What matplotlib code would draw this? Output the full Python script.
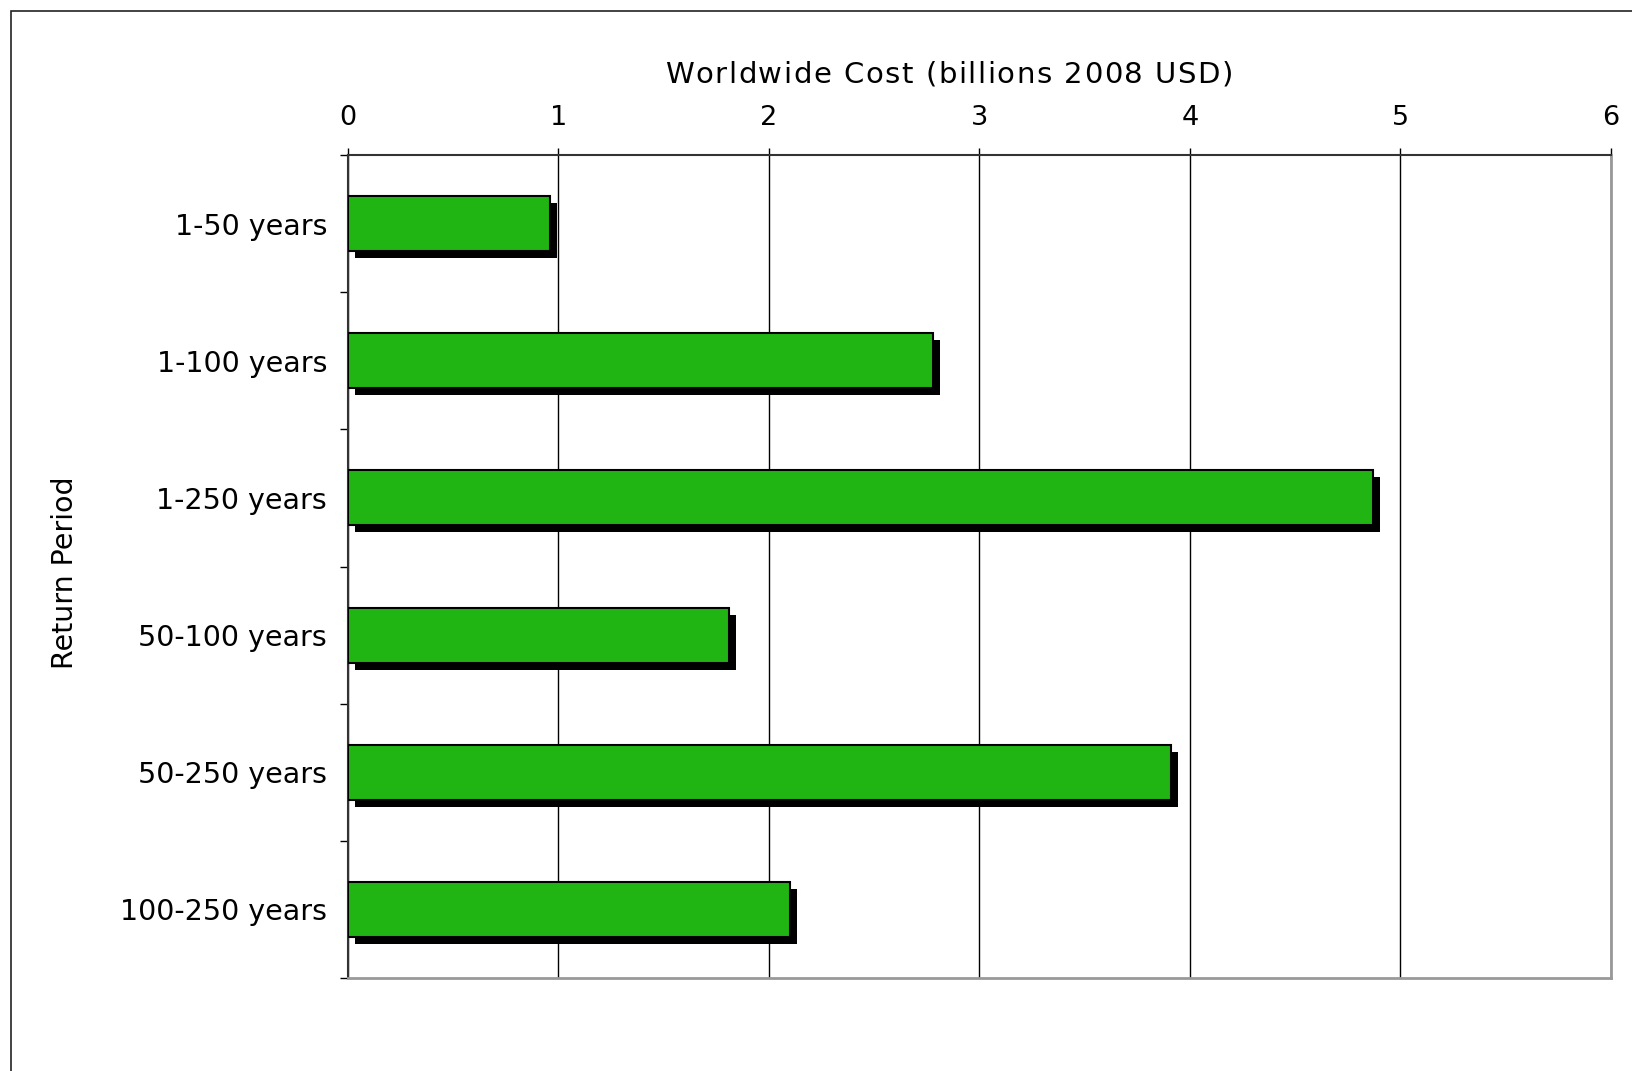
import matplotlib
matplotlib.use("Agg")
import matplotlib.pyplot as plt
from matplotlib.patches import Rectangle
from matplotlib.ticker import FixedLocator, NullFormatter
import matplotlib.transforms as mtransforms

categories = ["1-50 years", "1-100 years", "1-250 years", "50-100 years", "50-250 years", "100-250 years"]
costs = [0.96, 2.78, 4.87, 1.81, 3.91, 2.10]
xticks = [0, 1, 2, 3, 4, 5, 6]

W, H = 1633, 1071
fig = plt.figure(figsize=(W / 100, H / 100), dpi=100)
plt.rcParams['font.family'] = ['DejaVu Sans']

# axes position in pixels
left, right, top, bottom = 348, 1611, 155, 978
ax = fig.add_axes([left / W, 1 - bottom / H, (right - left) / W, (bottom - top) / H])

n = len(categories)
ypos = list(range(n))
green = "#20b513"

shadow = mtransforms.offset_copy(ax.transData, fig=fig, x=7, y=-7, units='dots')
ax.barh(ypos, costs, height=0.40, color="black", edgecolor="none", transform=shadow, zorder=2)
ax.barh(ypos, costs, height=0.40, color=green, edgecolor="black", linewidth=1.5, zorder=3)

ax.set_xlim(0, 6)
ax.set_ylim(n - 0.5, -0.5)
ax.xaxis.tick_top()
ax.xaxis.set_label_position('top')
ax.set_xticks(xticks)
ax.set_xticklabels([str(t) for t in xticks], fontsize=19.5)
ax.tick_params(axis='x', direction='out', length=5, width=1, pad=12, color='black')
ax.grid(axis='x', color='black', linewidth=1)
ax.set_axisbelow(True)

ax.set_yticks(ypos)
ax.set_yticklabels(categories, fontsize=20.5)
ax.tick_params(axis='y', which='major', length=0, pad=15)
ax.yaxis.set_minor_locator(FixedLocator([i - 0.5 for i in range(n + 1)]))
ax.yaxis.set_minor_formatter(NullFormatter())
ax.tick_params(axis='y', which='minor', direction='out', length=6, width=1, color='black')

for s in ['top', 'left']:
    ax.spines[s].set_color('#333333')
    ax.spines[s].set_linewidth(1.5)
for s in ['right', 'bottom']:
    ax.spines[s].set_color('#999999')
    ax.spines[s].set_linewidth(2)

# title with slight letter spacing
title = "Worldwide Cost (billions 2008 USD)"
ty = 1 - 75 / H
fs = 21
fig.canvas.draw()
r = fig.canvas.get_renderer()


def text_width(s):
    tmp = fig.text(0, 0, s, fontsize=fs)
    w = tmp.get_window_extent(r).width
    tmp.remove()
    return w


full_w = text_width(title)
target_w = 566.0
extra = (target_w - full_w) / (len(title) - 1)
wa = text_width('a')
x = 948 - target_w / 2
for ch in title:
    if ch == ' ':
        w = text_width('a a') - 2 * wa
    else:
        fig.text(x / W, ty, ch, fontsize=fs, ha='left', va='center')
        w = text_width(ch)
    x += w + extra

fig.text(65 / W, 1 - 573 / H, "Return Period", fontsize=20.5, rotation=90,
         ha='center', va='center')

# outer frame
fig.patches.append(Rectangle((11 / W, -0.1), 1.2, 1 - 11 / H + 0.1, transform=fig.transFigure,
                             fill=False, edgecolor='#222222', linewidth=1.2))

fig.savefig("out.png", dpi=100)
